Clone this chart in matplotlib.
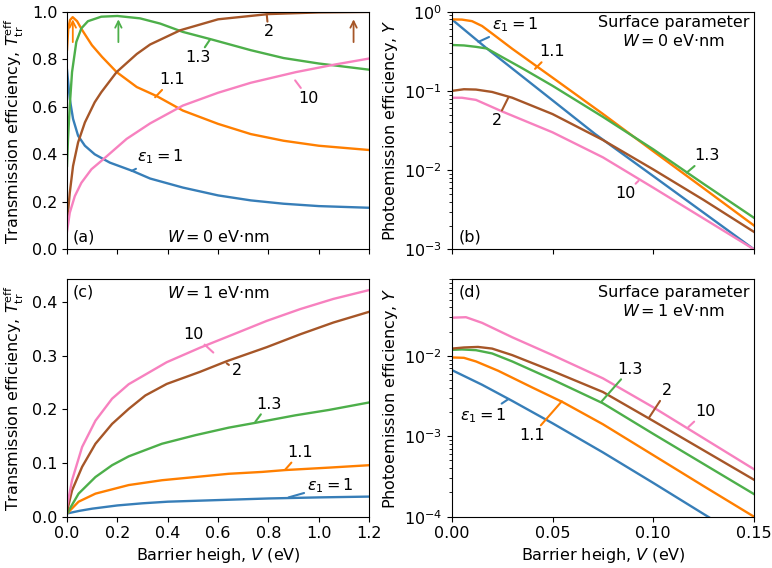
import matplotlib
matplotlib.use('Agg')
import matplotlib.pyplot as plt

# ---------------- data ----------------
eps_labels = ['$\\varepsilon_1=1$', '1.1', '1.3', '2', '10']
colors = ['#377eb8', '#ff7f00', '#4daf4a', '#a65628', '#f781bf']

# (a) transmission efficiency, W = 0
a_v_e1 = [0, 0.011, 0.024, 0.044, 0.071, 0.11, 0.17, 0.26, 0.33, 0.46, 0.6, 0.73, 0.86, 1.0, 1.2]
a_t_e1 = [0.755, 0.633, 0.549, 0.478, 0.436, 0.40, 0.365, 0.33, 0.298, 0.26, 0.227, 0.206, 0.192, 0.182, 0.175]
a_v_e11 = [0, 0.005, 0.012, 0.0225, 0.04, 0.06, 0.099, 0.139, 0.197, 0.277, 0.356, 0.46, 0.6, 0.73, 0.86, 1.0, 1.2]
a_t_e11 = [0.84, 0.93, 0.965, 0.977, 0.96, 0.923, 0.859, 0.81, 0.746, 0.683, 0.645, 0.584, 0.528, 0.485, 0.457, 0.436, 0.418]
a_v_e13 = [0, 0.004, 0.011, 0.02, 0.037, 0.057, 0.083, 0.136, 0.2, 0.29, 0.37, 0.46, 0.575, 0.73, 0.86, 1.0, 1.2]
a_t_e13 = [0.351, 0.464, 0.605, 0.746, 0.873, 0.93, 0.96, 0.979, 0.982, 0.972, 0.95, 0.915, 0.883, 0.838, 0.805, 0.782, 0.756]
a_v_e2 = [0, 0.011, 0.024, 0.044, 0.071, 0.11, 0.136, 0.197, 0.277, 0.33, 0.45, 0.6, 0.8, 1.0, 1.2]
a_t_e2 = [0.11, 0.238, 0.351, 0.45, 0.534, 0.619, 0.661, 0.746, 0.822, 0.862, 0.922, 0.968, 0.99, 0.997, 0.999]
a_v_e10 = [0, 0.011, 0.031, 0.057, 0.097, 0.145, 0.237, 0.33, 0.46, 0.6, 0.73, 0.91, 1.06, 1.2]
a_t_e10 = [0.075, 0.154, 0.224, 0.28, 0.337, 0.38, 0.465, 0.53, 0.605, 0.659, 0.701, 0.746, 0.777, 0.803]

# (b) photoemission efficiency, W = 0
b_v_e1 = [0, 0.0174, 0.05, 0.0711, 0.1, 0.125, 0.15]
b_y_e1 = [0.80, 0.343, 0.076, 0.0286, 0.0084, 0.0029, 0.001]
b_v_e11 = [0, 0.005, 0.01, 0.015, 0.02, 0.03, 0.05, 0.075, 0.1, 0.125, 0.15]
b_y_e11 = [0.80, 0.795, 0.76, 0.66, 0.53, 0.34, 0.147, 0.0512, 0.0173, 0.0059, 0.002]
b_v_e13 = [0, 0.006, 0.012, 0.0174, 0.025, 0.035, 0.05, 0.075, 0.1, 0.125, 0.15]
b_y_e13 = [0.38, 0.375, 0.36, 0.343, 0.267, 0.193, 0.116, 0.047, 0.0183, 0.0067, 0.0025]
b_v_e2 = [0, 0.006, 0.012, 0.02, 0.03, 0.05, 0.075, 0.1, 0.125, 0.15]
b_y_e2 = [0.1, 0.105, 0.104, 0.097, 0.082, 0.051, 0.024, 0.0102, 0.0042, 0.00166]
b_v_e10 = [0, 0.005, 0.012, 0.025, 0.05, 0.075, 0.1, 0.125, 0.15]
b_y_e10 = [0.082, 0.082, 0.077, 0.055, 0.030, 0.0145, 0.006, 0.00245, 0.001]

# (c) transmission efficiency, W = 1
c_v_e1 = [0, 0.05, 0.1, 0.2, 0.3, 0.4, 0.6, 0.8, 1.0, 1.2]
c_t_e1 = [0.006, 0.011, 0.015, 0.021, 0.025, 0.028, 0.031, 0.034, 0.036, 0.0375]
c_v_e11 = [0, 0.046, 0.113, 0.245, 0.377, 0.51, 0.642, 0.775, 0.868, 1.04, 1.2]
c_t_e11 = [0.006, 0.028, 0.043, 0.059, 0.068, 0.074, 0.08, 0.0835, 0.087, 0.0915, 0.096]
c_v_e13 = [0, 0.046, 0.113, 0.179, 0.245, 0.377, 0.51, 0.642, 0.748, 0.907, 1.04, 1.2]
c_t_e13 = [0.006, 0.043, 0.074, 0.096, 0.1125, 0.136, 0.152, 0.166, 0.175, 0.189, 0.199, 0.213]
c_v_e2 = [0, 0.02, 0.06, 0.113, 0.179, 0.245, 0.311, 0.396, 0.528, 0.635, 0.793, 0.926, 1.058, 1.2]
c_t_e2 = [0.01, 0.049, 0.093, 0.136, 0.173, 0.201, 0.226, 0.2475, 0.27, 0.29, 0.316, 0.34, 0.362, 0.382]
c_v_e10 = [0, 0.02, 0.06, 0.113, 0.179, 0.245, 0.396, 0.528, 0.661, 0.793, 0.926, 1.058, 1.2]
c_t_e10 = [0.019, 0.068, 0.13, 0.179, 0.22, 0.247, 0.288, 0.315, 0.34, 0.365, 0.387, 0.406, 0.4225]

# (d) photoemission efficiency, W = 1
d_v_e1 = [0, 0.015, 0.03, 0.05, 0.075, 0.1, 0.125, 0.15]
d_y_e1 = [0.00665, 0.00437, 0.00275, 0.00145, 0.00063, 0.000263, 0.000108, 0.0000447]
d_v_e11 = [0, 0.006, 0.012, 0.023, 0.04, 0.055, 0.075, 0.1, 0.125, 0.15]
d_y_e11 = [0.00955, 0.00944, 0.00851, 0.00652, 0.00403, 0.00266, 0.00141, 0.000582, 0.00024, 0.0001]
d_v_e13 = [0, 0.005, 0.012, 0.02, 0.03, 0.05, 0.075, 0.1, 0.125, 0.15]
d_y_e13 = [0.01186, 0.0120, 0.01175, 0.0107, 0.00851, 0.00507, 0.00257, 0.00107, 0.000452, 0.000191]
d_v_e2 = [0, 0.006, 0.013, 0.02, 0.03, 0.05, 0.075, 0.1, 0.125, 0.15]
d_y_e2 = [0.0123, 0.0127, 0.0129, 0.0123, 0.0102, 0.00646, 0.00355, 0.00155, 0.000668, 0.000288]
d_v_e10 = [0, 0.007, 0.015, 0.03, 0.05, 0.075, 0.1, 0.125, 0.15]
d_y_e10 = [0.0298, 0.0302, 0.0257, 0.017, 0.0102, 0.00525, 0.00229, 0.000944, 0.000389]

panel_a = [(a_v_e1, a_t_e1), (a_v_e11, a_t_e11), (a_v_e13, a_t_e13), (a_v_e2, a_t_e2), (a_v_e10, a_t_e10)]
panel_b = [(b_v_e1, b_y_e1), (b_v_e11, b_y_e11), (b_v_e13, b_y_e13), (b_v_e2, b_y_e2), (b_v_e10, b_y_e10)]
panel_c = [(c_v_e1, c_t_e1), (c_v_e11, c_t_e11), (c_v_e13, c_t_e13), (c_v_e2, c_t_e2), (c_v_e10, c_t_e10)]
panel_d = [(d_v_e1, d_y_e1), (d_v_e11, d_y_e11), (d_v_e13, d_y_e13), (d_v_e2, d_y_e2), (d_v_e10, d_y_e10)]

# label placement: (curve point, text point) for each eps, per panel
a_lab = [((0.257, 0.33), (0.37, 0.39)), ((0.35, 0.64), (0.416, 0.714)), ((0.568, 0.883), (0.52, 0.807)),
         ((0.793, 0.99), (0.8, 0.915)), ((0.906, 0.711), (0.959, 0.636))]
b_lab = [((0.0132, 0.416), (0.0314, 0.68)), ((0.0413, 0.19), (0.0496, 0.31)), ((0.1166, 0.0093), (0.1265, 0.0152)),
         ((0.0281, 0.083), (0.0223, 0.042)), ((0.0926, 0.0073), (0.086, 0.005))]
c_lab = [((0.88, 0.036), (1.045, 0.058)), ((0.867, 0.088), (0.927, 0.12)), ((0.748, 0.177), (0.8, 0.21)),
         ((0.634, 0.286), (0.674, 0.272)), ((0.581, 0.306), (0.502, 0.34))]
d_lab = [((0.0281, 0.0029), (0.0157, 0.0018)), ((0.0546, 0.00272), (0.0397, 0.00102)), ((0.0744, 0.00272), (0.0885, 0.00685)),
         ((0.098, 0.00172), (0.1067, 0.00369)), ((0.1174, 0.0013), (0.1257, 0.00204))]

# peak markers in (a): (V, colour index)
a_arrows = [(0.023, 1), (0.204, 2), (1.138, 3)]

############### Initiate plot #############################################
font = {'weight': 'normal', 'size': 11.5}
matplotlib.rc('font', **font)
fig, axs = plt.subplots(2, 2, figsize=(7.72, 5.68), dpi=100)
plt.subplots_adjust(left=0.0868, right=0.9767, top=0.9794, bottom=0.0903, wspace=0.2736, hspace=0.125)
ax_a, ax_b = axs[0]
ax_c, ax_d = axs[1]


def draw(ax, curves, labels, log=False):
    for (v, y), c in zip(curves, colors):
        ax.plot(v, y, color=c, lw=1.7)
    for (xy, xyt), txt, c in zip(labels, eps_labels, colors):
        ax.annotate(txt, xy=xy, xytext=xyt, ha='center', va='center',
                    arrowprops=dict(arrowstyle='-', color=c, lw=1.5, shrinkA=0, shrinkB=0))
    if log:
        ax.set_yscale('log')


draw(ax_a, panel_a, a_lab)
draw(ax_b, panel_b, b_lab, log=True)
draw(ax_c, panel_c, c_lab)
draw(ax_d, panel_d, d_lab, log=True)

for v, ci in a_arrows:
    ax_a.annotate('', xy=(v, 0.968), xytext=(v, 0.872),
                  arrowprops=dict(arrowstyle='->', color=colors[ci], lw=1.3, shrinkA=0, shrinkB=0))

############### axes #############################################
for ax in (ax_a, ax_c):
    ax.set_xlim(0, 1.2)
    ax.set_xticks([0, 0.2, 0.4, 0.6, 0.8, 1.0, 1.2])
    ax.set_ylabel('Transmission efficiency, $T_\\mathrm{tr}^\\mathrm{eff}$', labelpad=4)
for ax in (ax_b, ax_d):
    ax.set_xlim(0, 0.15)
    ax.set_xticks([0, 0.05, 0.10, 0.15])
    ax.set_ylabel('Photoemission efficiency, $Y$', labelpad=3)
ax_a.set_ylim(0, 1.0)
ax_c.set_ylim(0, 0.443)
ax_b.set_ylim(1e-3, 1.0)
ax_d.set_ylim(1e-4, 0.09)
ax_a.tick_params(labelbottom=False)
ax_b.tick_params(labelbottom=False)
ax_c.set_xlabel('Barrier heigh, $V$ (eV)', labelpad=3)
ax_d.set_xlabel('Barrier heigh, $V$ (eV)', labelpad=3)
ax_d.set_xticklabels(['0.00', '0.05', '0.10', '0.15'])

ax_a.text(0.02, 0.02, '(a)', transform=ax_a.transAxes, ha='left', va='bottom')
ax_b.text(0.022, 0.02, '(b)', transform=ax_b.transAxes, ha='left', va='bottom')
ax_c.text(0.02, 0.975, '(c)', transform=ax_c.transAxes, ha='left', va='top')
ax_d.text(0.022, 0.975, '(d)', transform=ax_d.transAxes, ha='left', va='top')
ax_a.text(0.5, 0.02, '$W=0$ eV$\\cdot$nm', transform=ax_a.transAxes, ha='center', va='bottom')
ax_c.text(0.5, 0.975, '$W=1$ eV$\\cdot$nm', transform=ax_c.transAxes, ha='center', va='top')
ax_b.text(0.985, 0.985, 'Surface parameter\n$W=0$ eV$\\cdot$nm', transform=ax_b.transAxes,
          ha='right', va='top', multialignment='center')
ax_d.text(0.985, 0.975, 'Surface parameter\n$W=1$ eV$\\cdot$nm', transform=ax_d.transAxes,
          ha='right', va='top', multialignment='center')

plt.savefig('out.png')
plt.close()
